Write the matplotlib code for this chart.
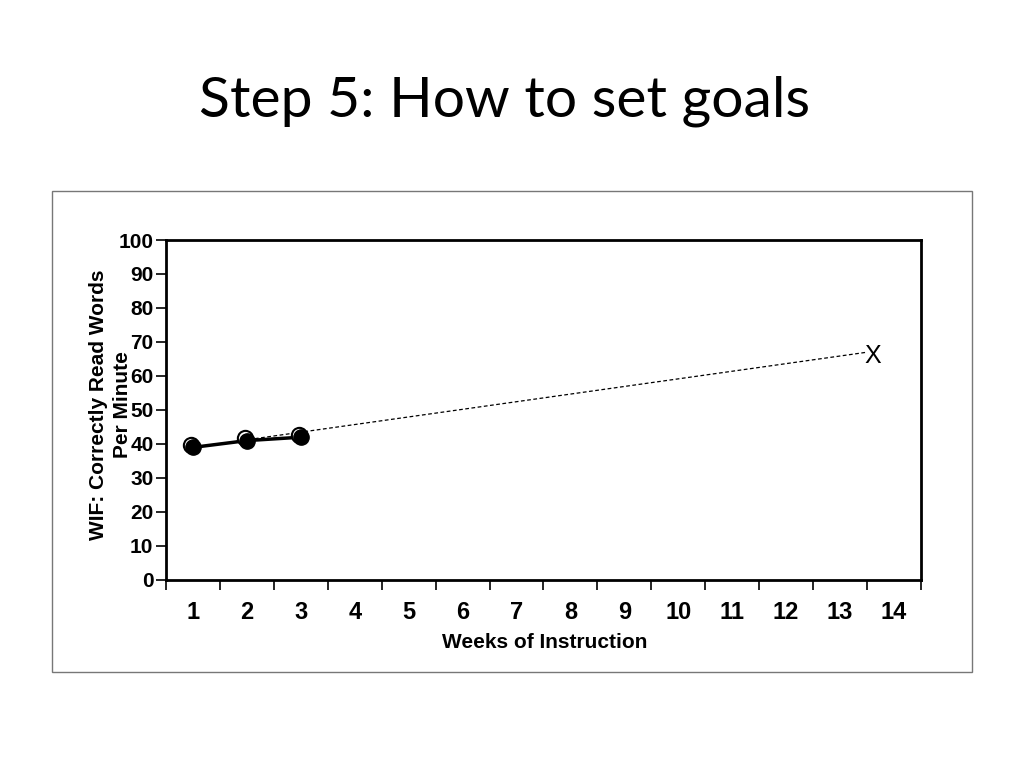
import matplotlib.pyplot as plt
from matplotlib.patches import Rectangle

# dados
semanas = [1, 2, 3]
palavras = [39, 41, 42]
semanas_todas = list(range(1, 15))
linha_meta_x = [1, 13.5]
linha_meta_y = [39, 67]
meta_x = 13.6
meta_y = 66

fig = plt.figure(figsize=(10.24, 7.68), dpi=100)

fig.text(0.493, 0.868, 'Step 5: How to set goals', ha='center', va='center',
         fontsize=41, family='Lato')

# moldura cinza em volta do grafico
fig.patches.append(Rectangle((0.0508, 0.125), 0.8984, 0.6263, transform=fig.transFigure,
                             fill=False, edgecolor='#777777', linewidth=1))

ax = fig.add_axes([0.1621, 0.2448, 0.7373, 0.4427])
ax.set_xlim(0.5, 14.5)
ax.set_ylim(0, 100)

# linha da meta (tracejada) e o X
ax.plot(linha_meta_x, linha_meta_y, '--', color='black', linewidth=0.9, dashes=(3, 2))
ax.text(meta_x, meta_y, 'X', ha='center', va='center', fontsize=18, family='Liberation Sans')

# pontos dos dados
ax.plot(semanas, palavras, '-', color='black', linewidth=2.5)
ax.plot([s - 0.04 for s in semanas], [p + 0.7 for p in palavras], 'o', markersize=11,
        markerfacecolor='white', markeredgecolor='black', markeredgewidth=1.5)
ax.plot(semanas, palavras, 'o', markersize=11, color='black')

for s in ax.spines.values():
    s.set_linewidth(2)

ax.set_yticks(range(0, 101, 10))
ax.set_xticks([x + 0.5 for x in range(0, 15)])
ax.set_xticklabels([])
ax.set_xticks(semanas_todas, minor=True)
ax.set_xticklabels([str(s) for s in semanas_todas], minor=True)
ax.tick_params(axis='x', which='major', direction='out', length=7, width=1.2)
ax.tick_params(axis='x', which='minor', length=0, pad=15, labelsize=17)
ax.tick_params(axis='y', direction='out', length=7, width=1.2, labelsize=15, pad=2)
for lab in ax.get_xticklabels(minor=True) + ax.get_yticklabels():
    lab.set_family('Liberation Sans')
    lab.set_fontweight('bold')

fig.text(0.532, 0.163, 'Weeks of Instruction', ha='center', va='center',
         fontsize=15, fontweight='bold', family='Liberation Sans')
fig.text(0.108, 0.473, 'WIF: Correctly Read Words\nPer Minute', ha='center', va='center',
         rotation=90, fontsize=15, fontweight='bold', family='Liberation Sans',
         linespacing=1.3)

plt.savefig('out.png', dpi=100)
plt.close()
